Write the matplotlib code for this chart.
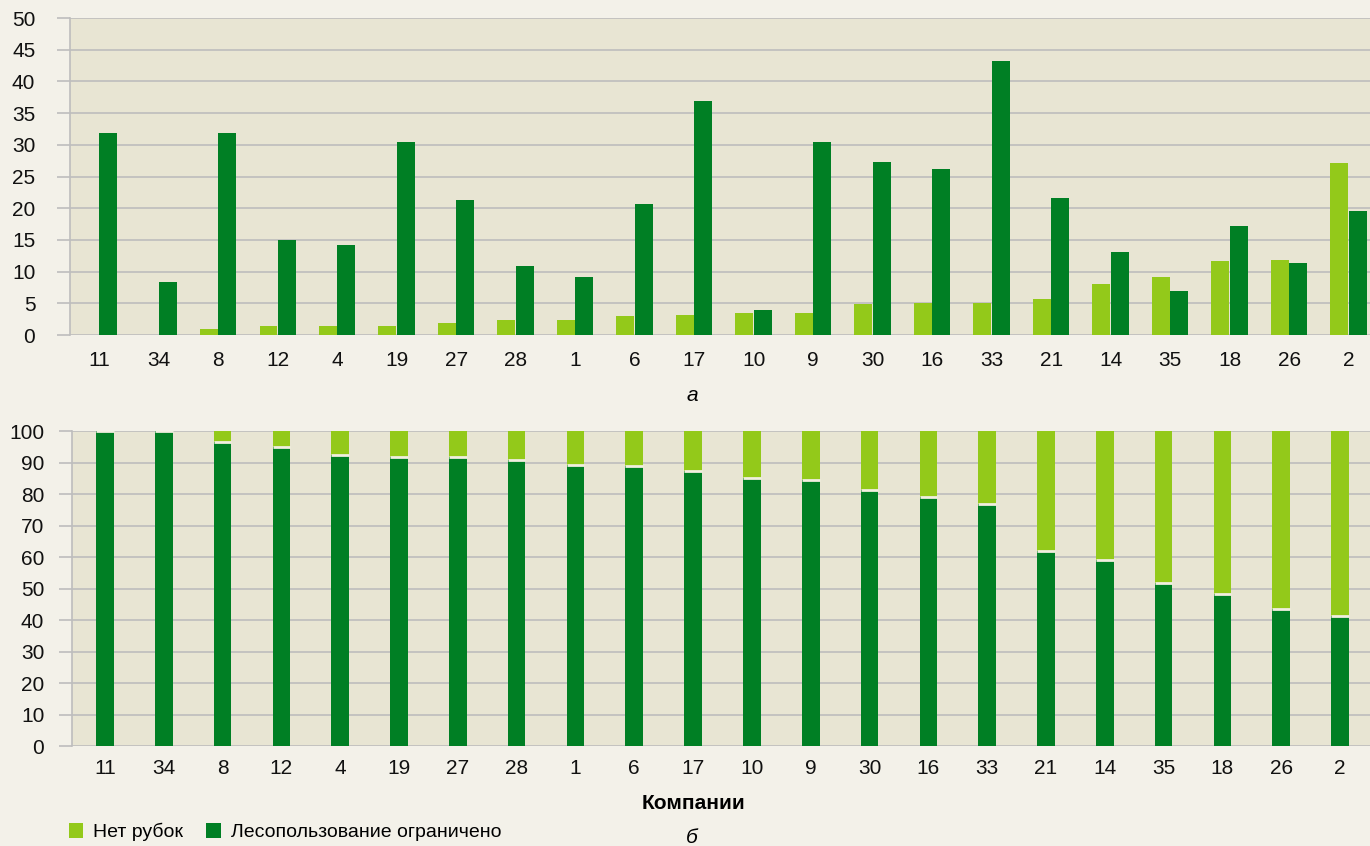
import matplotlib
matplotlib.use('Agg')
import matplotlib.pyplot as plt
import numpy as np

plt.rcParams['font.family'] = ['Liberation Sans', 'DejaVu Sans']

# companies, sorted as in the source figure
companies = ['11', '34', '8', '12', '4', '19', '27', '28', '1', '6', '17',
             '10', '9', '30', '16', '33', '21', '14', '35', '18', '26', '2']

# (a) area shares, %
no_cut = [0, 0, 1.0, 1.5, 1.5, 1.5, 1.9, 2.4, 2.4, 3.0, 3.2,
          3.5, 3.5, 4.9, 5.0, 5.0, 5.7, 8.0, 9.1, 11.7, 11.8, 27.1]
limited = [31.9, 8.4, 31.9, 15.0, 14.2, 30.5, 21.3, 10.9, 9.1, 20.7, 36.9,
           3.9, 30.4, 27.3, 26.2, 43.2, 21.6, 13.1, 6.9, 17.2, 11.4, 19.6]

# (b) structure, %
limited_pct = [100, 100, 96.5, 94.9, 92.4, 91.7, 91.7, 90.8, 89.2, 88.9, 87.3,
               85.0, 84.4, 81.2, 79.0, 76.8, 61.8, 59.2, 51.9, 48.4, 43.6, 41.4]
no_cut_pct = [100 - v for v in limited_pct]

light = '#93C91A'
dark = '#007F24'
fig_bg = '#F3F1E9'
ax_bg = '#E8E5D3'
grid_c = '#BDBDBD'
fs = 15

fig = plt.figure(figsize=(13.7, 8.46), dpi=100, facecolor=fig_bg)
ax1 = fig.add_axes([0.0511, 0.604, 0.9489, 0.3747])
ax2 = fig.add_axes([0.0526, 0.1182, 0.9474, 0.3723])

x = np.arange(len(companies))
w = 0.30


def style(ax, ymax, step, pad_y, pad_x):
    ax.set_facecolor(ax_bg)
    ax.set_ylim(0, ymax)
    ax.set_yticks(np.arange(0, ymax + 1, step))
    ax.set_axisbelow(True)
    ax.yaxis.grid(True, color=grid_c, lw=1.2)
    for s in ['top', 'right', 'bottom']:
        ax.spines[s].set_visible(False)
    ax.spines['left'].set_color(grid_c)
    ax.spines['left'].set_linewidth(1.2)
    ax.tick_params(axis='y', length=9.5, width=1.2, color=grid_c,
                   labelsize=fs, pad=pad_y, labelcolor='#111111')
    ax.tick_params(axis='x', length=0, labelsize=fs, pad=pad_x,
                   labelcolor='#111111')
    ax.set_xticks(x)
    ax.set_xticklabels(companies)


# (a)
ax1.bar(x - w / 2 - 0.005, no_cut, w, color=light, zorder=3)
ax1.bar(x + w / 2 + 0.005, limited, w, color=dark, zorder=3)
style(ax1, 50, 5, 15.5, 11.5)
ax1.set_xlim(-0.49, 21.36)

# (b)
ax2.bar(x, limited_pct, w, color=dark, zorder=3, label='Лесопользование ограничено')
ax2.bar(x, no_cut_pct, w, bottom=limited_pct, color=light, zorder=3, label='Нет рубок')
ax2.hlines(limited_pct, x - w / 2, x + w / 2, color='#F1EFE0', lw=2, zorder=4)
style(ax2, 100, 10, 10.5, 9.5)
ax2.set_xlim(-0.56, 21.51)

fig.text(0.505, 0.533, 'а', fontsize=fs, style='italic', ha='center', va='center')
fig.text(0.506, 0.0508, 'Компании', fontsize=fs, weight='bold', ha='center', va='center')
fig.text(0.505, 0.0095, 'б', fontsize=fs, style='italic', ha='center', va='center')

h, l = ax2.get_legend_handles_labels()
fig.legend(h[::-1], l[::-1], loc='center left', bbox_to_anchor=(0.043, 0.0165),
           ncol=2, frameon=False, fontsize=14, handlelength=0.75, handleheight=0.75,
           handletextpad=0.5, columnspacing=1.2, borderpad=0)

fig.savefig('out.png', dpi=100, facecolor=fig_bg)
